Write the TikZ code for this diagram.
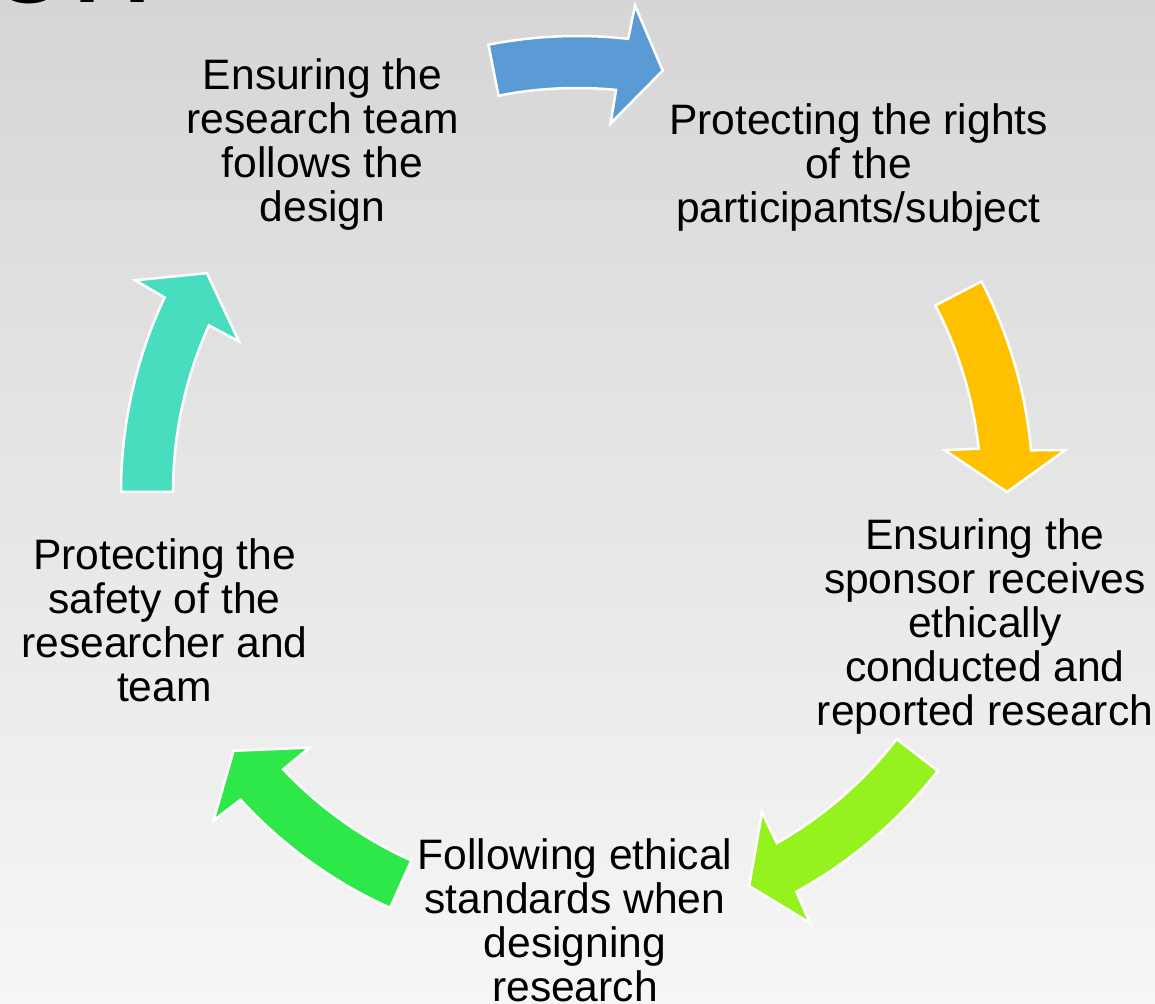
\documentclass[tikz,border=0pt]{standalone}
\usepackage{fontspec}
\setmainfont{Liberation Sans}
\definecolor{bgTop}{RGB}{214,214,214}
\definecolor{bgBot}{RGB}{246,246,246}
\definecolor{arrBlue}{RGB}{91,155,213}
\definecolor{arrYellow}{RGB}{255,192,0}
\definecolor{arrLime}{RGB}{150,242,30}
\definecolor{arrGreen}{RGB}{46,232,74}
\definecolor{arrTeal}{RGB}{72,221,190}
\tikzset{
  x=1pt, y=1pt,
  steptext/.style={anchor=north, inner sep=0pt, align=center, text=black,
    font=\fontsize{42.6pt}{44pt}\selectfont},
  cyclearrow/.style={draw=white, line width=2.5pt, line join=miter}
}
\begin{document}
\begin{tikzpicture}
\useasboundingbox (0,0) rectangle (1155,1003);
\shade[top color=bgTop, bottom color=bgBot] (0,0) rectangle (1155,1003);
\begin{scope}
  \clip (0,0) rectangle (1155,1003);
  % cut-off title fragment
  \node[anchor=base west, inner sep=0pt, text=black,
        font=\fontsize{150pt}{150pt}\selectfont] (title) at (-13,1000) {on};
\end{scope}
% cycle arrows: tail angle / head-base angle / tip angle / colour
\def\R{430}\def\W{26}\def\H{60}
\foreach \a/\h/\t/\c in {101.2/84.0/78.5/arrBlue, 27.5/5.7/0/arrYellow,
    -37.7/-60.8/-66.4/arrLime, -114.2/-137.1/-143/arrGreen,
    180/155.2/149.4/arrTeal}{
  \path[cyclearrow, fill=\c]
    ([shift={(577,511)}]\a:\R+\W)
    arc[start angle=\a, end angle=\h-0.45, radius=\R+\W]
    -- ([shift={(577,511)}]\h-0.8:\R+\H)
    -- ([shift={(577,511)}]\t:\R)
    -- ([shift={(577,511)}]\h+0.8:\R-\H)
    -- ([shift={(577,511)}]\h+0.45:\R-\W)
    arc[start angle=\h+0.45, end angle=\a, radius=\R-\W]
    -- cycle;
}
% texts
\node[steptext] (n1) at (322.5,944.5) {Ensuring the\\research team\\follows the\\design};
\node[steptext] (n2) at (858.5,900) {Protecting the rights\\of the\\participants/subject};
\node[steptext] (n3) at (985,484.5) {Ensuring the\\sponsor receives\\ethically\\conducted and\\reported research};
\node[steptext] (n4) at (575,164.5) {Following ethical\\standards when\\designing\\research};
\node[steptext] (n5) at (164.5,464.5) {Protecting the\\safety of the\\researcher and\\team};
\end{tikzpicture}
\end{document}
